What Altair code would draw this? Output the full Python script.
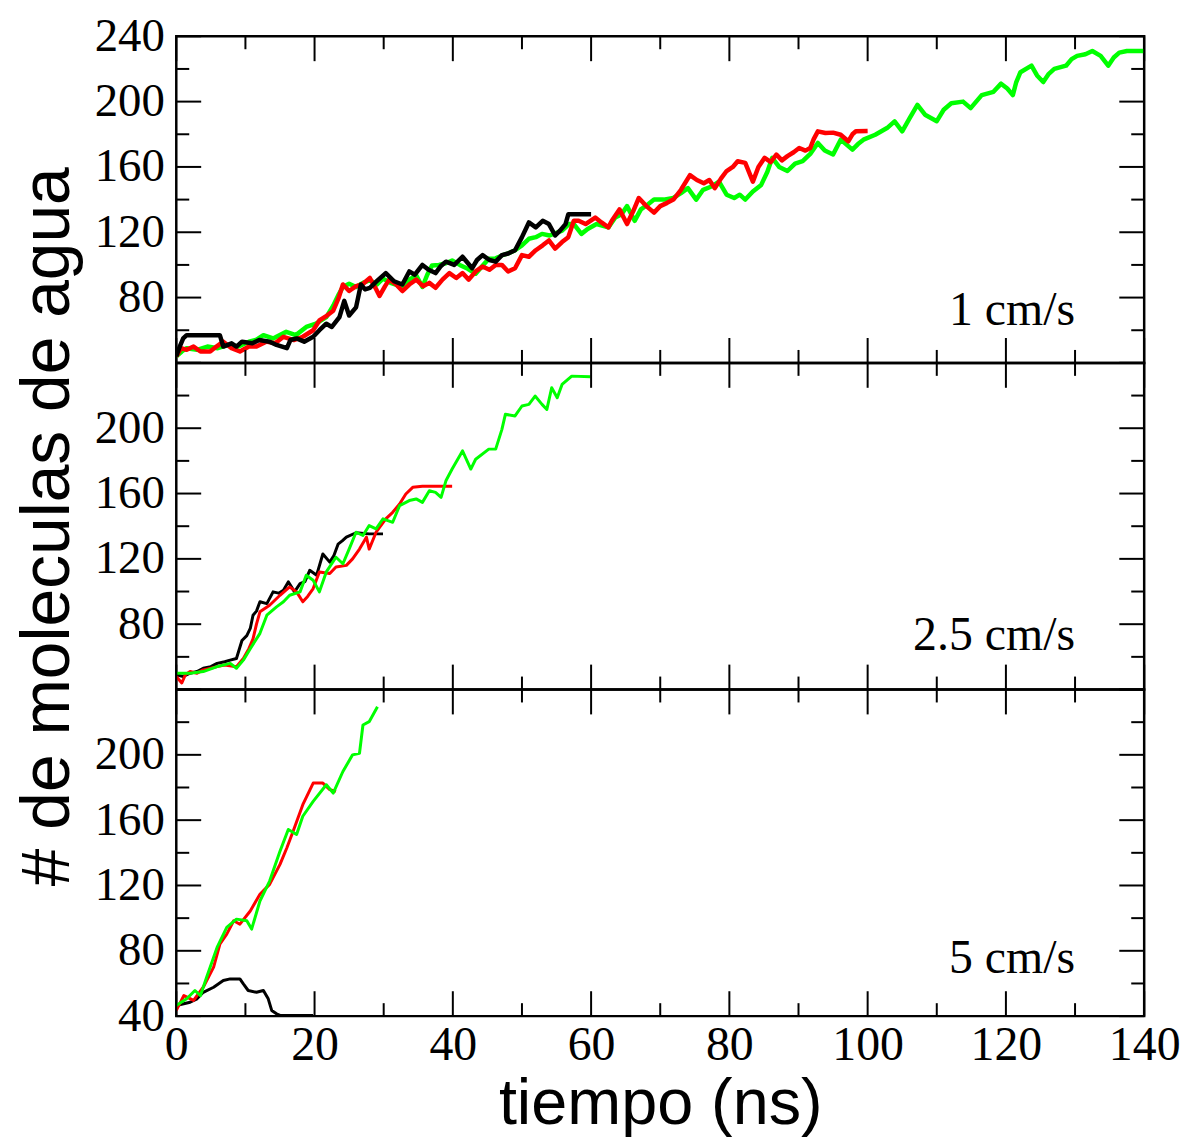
import altair as alt
import pandas as pd

# ---------------- data (time in ns, number of water molecules) ----------------
top_black = [(0,44),(0.5,50),(1,55),(1.5,57),(6.3,57),(6.8,50),(8,52),(8.7,50),(9.5,53),(11,52),(12,54),
             (13.5,53),(14.5,51),(16,49),(16.5,54),(17.4,55),(18.5,53),(19.8,56),(20.7,60),(21.7,64),(22.5,62),
             (23.6,68),(24.3,78),(25,69),(26,74),(26.7,88),(27.3,85),(28,86),(29,90),(30.3,95),(31.5,90),
             (32.7,88),(33.7,96),(34.5,94),(35.6,100),(36.5,97),(37.5,95),(38.2,99),(39,102),(40.2,100),
             (41.4,105),(42.8,98),(43.5,103),(44.3,106),(45.3,103),(46.2,102),(47.1,106),(48,107),(49,109),
             (50,117),(51,126),(52,123),(53,127),(53.9,125),(54.8,118),(55.5,121),(56.3,125),(56.7,131),(60,131)]
top_red = [(0,44),(0.7,49),(1.5,48),(2.5,50),(3.5,47),(4.9,47),(5.8,50),(6.8,53),(8,49),(9.2,47),(10.5,50),
           (11.6,50),(13,53),(14.3,52),(15.5,56),(17,54),(18.3,56),(19.8,60),(20.7,66),(21.8,69),(22.7,72),
           (23.5,80),(24.1,88),(25,84),(26,87),(26.9,88),(28,92),(28.8,86),(29.4,81),(30.2,87),(30.8,91),
           (31.8,88),(32.7,84),(33.7,88),(34.7,91),(35.7,87),(36.6,89),(37.5,86),(38.5,91),(39.5,95),(40.5,92),
           (41.4,95),(42.3,91),(43.3,96),(44.3,99),(45.3,97),(46.2,100),(47.1,100),(48,96),(49,98),(50,106),
           (51,105),(52,109),(53,112),(53.9,115),(54.8,110),(55.8,114),(56.7,117),(57.5,127),(58.2,127),
           (59.2,125),(60.6,129),(61.5,126),(62.5,123),(63,127),(64.1,134),(65.2,125),(66.1,133),(66.9,141),
           (68,136),(69.1,132),(70,136),(71,138),(71.9,140),(73,146),(74.3,155),(75.3,152),(76.3,150),
           (77.1,152),(77.9,147),(78.8,153),(79.6,157.5),(80.5,160),(81.2,163.5),(82.3,162.5),(83.4,151),
           (84.2,160),(85.1,165.6),(86,163),(86.8,167.6),(87.6,164),(88.4,166.6),(89.3,169),(90.1,171.6),
           (91,170),(91.7,171.6),(92.2,177),(92.8,181.8),(93.9,180.8),(95,181),(96.1,179.7),(97.2,175.7),
           (97.8,180),(98.3,181.8),(100,182)]
top_green = [(0,44),(0.8,47),(1.5,49),(3,48),(4.5,50),(6,49),(7.5,51),(9,50),(10.5,53),(11.5,54),(12.6,57),
             (14,55),(15.9,59),(17.3,57),(18.8,62),(20.2,64),(21.7,68),(22.7,75),(23.5,82),(24.1,86.5),(25,88.5),
             (26,86.5),(27,89),(28,90.6),(29,88),(29.9,91.6),(31,89),(32.7,86.5),(33.7,91),(34.7,93.6),
             (35.6,86.5),(36.3,94),(37,99.7),(38,100),(39,101),(39.9,102.7),(41,100),(42,98),(43.3,94.6),
             (44.2,99),(45.2,103.8),(46.2,104),(47.1,105.8),(48,107),(49,109),(50,112),(51,116),(52,117),
             (52.9,119),(54,118),(55.8,121),(56.8,125),(57.5,125),(58.6,119),(59.5,122),(60.8,125),(62.5,123),
             (63.5,129),(64.4,131),(65.2,136),(66.3,127),(67.2,134),(68.2,137),(69.1,140),(70.5,140),(71.9,141),
             (73,144),(74,147),(75.2,140),(76.2,146),(77.4,148),(78.5,151),(79.6,143),(80.7,141),(81.5,143),
             (82.3,140),(83.4,145),(84.6,149),(85.5,157),(86.2,165.6),(87.2,160),(88.4,157.5),(89.5,162),
             (90.6,163.5),(91.7,168),(92.8,174.7),(93.8,170),(95,167.6),(96.1,176.7),(97.8,170.6),(98.6,174),
             (99.4,176.7),(101.1,179.7),(102.8,183.8),(103.9,187.9),(105,181.8),(106.1,190),(107.2,198),
             (108.3,192),(110,188),(111,195),(112.1,199),(113.8,200),(114.9,196),(116.5,204),(118.2,206),
             (119.3,211),(120.2,208),(121,204),(121.5,212),(122.1,218),(123.7,222),(124.5,216),(125.4,212),
             (126.2,217),(127,220),(128.7,222),(129.5,226),(130.3,228),(131.5,229),(132.5,231),(133.7,228),
             (134.8,222),(135.6,227),(136.4,230),(137.5,231),(140,231)]

mid_black = [(0,49),(1,48),(2,50),(3,51),(3.9,53),(5,54),(5.9,56),(7,57),(7.8,58),(8.7,59),(9.5,70),(10.2,73),
             (10.7,77.4),(11.1,85.5),(11.6,88),(12.1,93.7),(13.1,92.6),(14,99.8),(14.8,99),(15.5,100.8),
             (16.2,105.9),(17.1,99.8),(17.9,104.8),(18.6,106),(19.3,113),(20.3,110),(21.2,123),(22.2,118),
             (22.8,122),(23.4,129),(24,131),(24.6,133.3),(26,136),(27.9,135.3),(29.9,135.3)]
mid_red = [(0,48),(0.8,44),(1.3,49),(2,51),(3,50),(3.9,52),(5,53),(5.9,54),(7,55),(8.7,54),(9.7,59),(10.5,65),
           (11.1,71),(11.6,80),(12.1,87.6),(13.5,91.6),(15,97.7),(16.4,102.8),(17.4,99.8),(18.3,93.7),(19,97),
           (19.8,101.8),(20.7,112),(22.2,111),(23.1,115),(24.6,116),(25.5,120),(26.5,126),(27.5,133.3),
           (27.9,126),(28.9,136.3),(30.3,144.5),(31.3,148.5),(32.3,153.6),(33.2,159.7),(34.2,163.8),
           (35.6,164.4),(39.9,164.4)]
mid_green = [(0,50),(2,50),(3.9,51),(5.9,54),(7.8,56),(8.7,53),(9.7,58),(10.7,65),(12.1,74.4),(13.1,85.5),
             (14.5,90.6),(15.5,93.7),(16.4,97.7),(17.9,99.8),(18.8,110),(19.8,106.9),(20.7,99.8),(21.7,112),
             (23.1,121),(24.1,117),(25,126),(26,136.3),(27,134.3),(27.9,140.4),(28.9,138.4),(29.9,144.5),
             (31.3,142.4),(32.3,152.6),(33.7,155.7),(34.7,156.7),(35.6,154.6),(36.6,161.7),(37.5,160.7),
             (38.3,157.7),(39,167.8),(39.9,175),(41.4,186.1),(42.6,175),(43.3,181),(45.2,187.2),(46.2,187.2),
             (47.1,199.3),(47.6,208.5),(49,207.5),(50,213.6),(51,214.6),(51.9,219.7),(52.9,214.6),(53.6,211.5),
             (54.3,224.8),(55.1,218.7),(55.8,226.8),(57.2,231.9),(59.9,231.5)]

bot_black = [(0,46.5),(2,48.5),(3,50.6),(3.9,54.6),(5.4,57.7),(6.8,61.8),(7.8,62.8),(9.2,62.8),(9.7,59.7),
             (10.4,55.7),(11.6,54.6),(12.6,55.7),(13.3,50.6),(13.8,43.5),(14.5,41.4),(15,40.4),(19.8,40.4)]
bot_red = [(0,43.5),(1.1,52.6),(2.5,49.6),(3.9,57.7),(5.4,70),(6.3,84),(7.3,90.2),(8.3,98.4),(9.2,96.3),
           (10.7,104.4),(12.1,114.6),(13.5,120.7),(15,132.9),(16,143.1),(16.9,153.2),(18.3,169.5),(19.8,182.7),
           (21.2,182.7),(22.2,178.7),(23.1,177.6)]
bot_green = [(0,46.5),(1.5,50.6),(2.7,55.7),(3.5,52.6),(4.4,63.9),(5.9,82.1),(7.3,94.3),(8.7,99.4),(10.2,98.4),
             (10.9,93.3),(12.1,110.5),(13.5,122.7),(15,141),(16.2,154.3),(17.4,151.2),(18.3,162.4),(19.8,171.5),
             (21.7,181.7),(22.7,176.6),(24.1,189.8),(25.5,200),(26.5,201),(27,218.3),(27.9,220.3),(29.1,229.5)]

labels = ["1 cm/s", "2.5 cm/s", "5 cm/s"]
label_y = [63, 64.4, 66.2]
x_major = [0, 20, 40, 60, 80, 100, 120, 140]
x_minor = [10, 30, 50, 70, 90, 110, 130]
y_major = [40, 80, 120, 160, 200, 240]
y_minor = [60, 100, 140, 180, 220]

BLACK, RED, GREEN = "#000000", "#ff0000", "#00ff00"
W, H = 972, 328
SERIF = "Liberation Serif"
SANS = "Liberation Sans"

xscale = alt.Scale(domain=[0, 140], nice=False, zero=False)
yscale = alt.Scale(domain=[40, 240], nice=False, zero=False)


def df(pairs):
    return pd.DataFrame(pairs, columns=["t", "n"])


def panel(series, label, ly, yvals, show_x, ytitle, lw):
    if show_x:
        xax = alt.Axis(values=x_major, ticks=False, domain=False, grid=False, labelFont=SERIF,
                       labelFontSize=48, labelColor="black", labelPadding=6, labelFlush=False,
                       title="tiempo (ns)", titleFont=SANS, titleFontSize=65, titleFontWeight="normal",
                       titleColor="black", titlePadding=3)
    else:
        xax = alt.Axis(values=x_major, ticks=False, domain=False, grid=False, labels=False, title=None)
    yax = alt.Axis(values=yvals, ticks=False, domain=False, grid=False, labelFont=SERIF,
                   labelFontSize=47, labelColor="black", labelPadding=12,
                   title=ytitle if ytitle else None, titleFont=SANS, titleFontSize=68,
                   titleFontWeight="normal", titleColor="black", titlePadding=12)
    X = lambda: alt.X("t:Q", scale=xscale, axis=xax, title="tiempo (ns)" if show_x else None)
    Y = lambda: alt.Y("n:Q", scale=yscale, axis=yax, title=ytitle if ytitle else None)
    layers = []
    for pairs, col in series:
        layers.append(alt.Chart(df(pairs)).mark_line(color=col, strokeWidth=lw, clip=True,
                                                     strokeJoin="round").encode(x=X(), y=Y()))
    # inward ticks
    xt_major = pd.DataFrame({"t": x_major})
    xt_minor = pd.DataFrame({"t": x_minor})
    yt_major = pd.DataFrame({"n": y_major})
    yt_minor = pd.DataFrame({"n": y_minor})
    for d, L in ((xt_major, 25), (xt_minor, 13)):
        layers.append(alt.Chart(d).mark_rule(color="black", strokeWidth=2).encode(
            x=X(), y=alt.value(H), y2=alt.value(H - L)))
        layers.append(alt.Chart(d).mark_rule(color="black", strokeWidth=2).encode(
            x=X(), y=alt.value(0), y2=alt.value(L)))
    for d, L in ((yt_major, 25), (yt_minor, 13)):
        layers.append(alt.Chart(d).mark_rule(color="black", strokeWidth=2).encode(
            y=Y(), x=alt.value(0), x2=alt.value(L)))
        layers.append(alt.Chart(d).mark_rule(color="black", strokeWidth=2).encode(
            y=Y(), x=alt.value(W), x2=alt.value(W - L)))
    lab = pd.DataFrame({"t": [130], "n": [ly], "txt": [label]})
    layers.append(alt.Chart(lab).mark_text(align="right", baseline="alphabetic", font=SERIF,
                                           fontSize=48, color="black").encode(
        x=X(), y=Y(), text="txt:N"))
    return alt.layer(*layers).properties(width=W, height=H)


p1 = panel([(top_green, GREEN), (top_red, RED), (top_black, BLACK)], labels[0], label_y[0],
           [80, 120, 160, 200, 240], False, None, 4.5)
p2 = panel([(mid_black, BLACK), (mid_red, RED), (mid_green, GREEN)], labels[1], label_y[1],
           [80, 120, 160, 200], False, "# de moleculas de agua", 3)
p3 = panel([(bot_black, BLACK), (bot_red, RED), (bot_green, GREEN)], labels[2], label_y[2],
           [40, 80, 120, 160, 200], True, None, 3)

chart = alt.vconcat(p1, p2, p3, spacing=0, bounds="flush").configure_view(
    stroke="black", strokeWidth=2.5).properties(
    background="white", padding={"top": 0, "left": 5, "right": 5, "bottom": 0})

chart.save("out.html", embed_options={"renderer": "svg", "actions": False})
